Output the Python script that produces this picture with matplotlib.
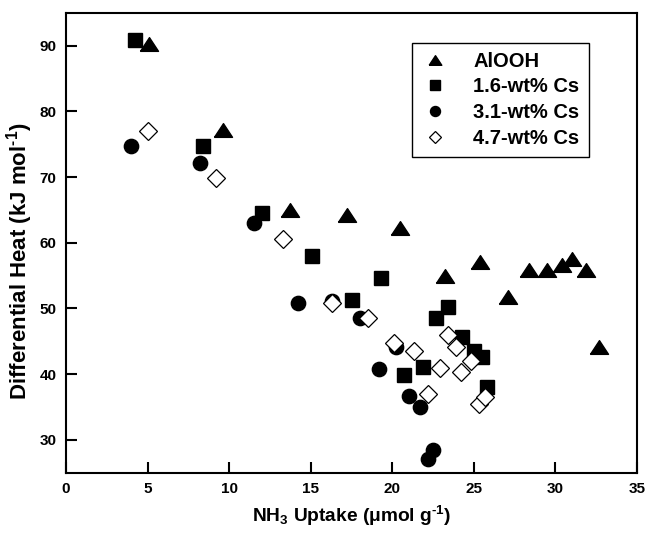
import numpy as np
import matplotlib.pyplot as plt

plt.rcParams['font.family'] = 'Liberation Sans'
plt.rcParams['font.weight'] = 'bold'
plt.rcParams['mathtext.fontset'] = 'custom'
plt.rcParams['mathtext.bf'] = 'Liberation Sans:bold'
plt.rcParams['mathtext.rm'] = 'Liberation Sans:bold'
plt.rcParams['mathtext.default'] = 'bf'

# AlOOH
x_al = [5.1, 9.6, 13.7, 17.2, 20.5, 23.2, 25.4, 27.1, 28.4, 29.5, 30.4, 31.0, 31.9, 32.7]
y_al = [90.2, 77.1, 65.0, 64.3, 62.2, 55.0, 57.0, 51.7, 55.9, 55.9, 56.6, 57.6, 55.9, 44.1]

# 1.6-wt% Cs
x_16 = [4.2, 8.4, 12.0, 15.1, 17.5, 19.3, 20.7, 21.9, 22.7, 23.4, 24.3, 25.0, 25.5, 25.8]
y_16 = [90.8, 74.8, 64.6, 58.0, 51.3, 54.6, 39.9, 41.1, 48.6, 50.3, 45.7, 43.6, 42.6, 38.0]

# 3.1-wt% Cs
x_31 = [4.0, 8.2, 11.5, 14.2, 16.3, 18.0, 19.2, 20.2, 21.0, 21.7, 22.2, 22.5]
y_31 = [74.7, 72.2, 63.0, 50.9, 51.2, 48.6, 40.8, 44.1, 36.7, 35.0, 27.1, 28.4]

# 4.7-wt% Cs
x_47 = [5.0, 9.2, 13.3, 16.3, 18.5, 20.1, 21.3, 22.2, 22.9, 23.4, 23.9, 24.2, 24.8, 25.3, 25.7]
y_47 = [77.0, 69.9, 60.6, 50.8, 48.6, 44.7, 43.6, 37.0, 41.0, 45.9, 44.2, 40.4, 42.0, 35.4, 36.6]

# slightly flattened triangle like the original
tri = [(-1, -0.76), (1, -0.76), (0, 0.76), (-1, -0.76)]

fig = plt.figure(figsize=(6.48, 5.33), dpi=100)
ax = fig.add_axes([0.102, 0.113, 0.881, 0.863])

ax.plot(x_al, y_al, linestyle='none', marker=tri, markersize=13, color='black', label='AlOOH')
ax.plot(x_16, y_16, linestyle='none', marker='s', markersize=9.6, color='black', label='1.6-wt% Cs')
ax.plot(x_31, y_31, linestyle='none', marker='o', markersize=10.3, color='black', label='3.1-wt% Cs')
ax.plot(x_47, y_47, linestyle='none', marker='D', markersize=9.2, markerfacecolor='white',
        markeredgecolor='black', markeredgewidth=0.9, label='4.7-wt% Cs')

ax.set_xlim(0, 35)
ax.set_ylim(25, 95)
ax.set_xticks(np.arange(0, 36, 5))
ax.set_yticks(np.arange(30, 91, 10))
ax.tick_params(direction='in', length=8, width=1.5, labelsize=11, top=False, right=False, pad=7)
for s in ax.spines.values():
    s.set_linewidth(1.5)

ax.set_xlabel(r'NH$_3$ Uptake ($\mu$mol g$^{\text{-}1}$)', fontsize=13.8, fontweight='bold', labelpad=5)
ax.set_ylabel(r'Differential Heat (kJ mol$^{\text{-}1}$)', fontsize=16, fontweight='bold')
ax.yaxis.set_label_coords(-0.054, 0.46)

leg = ax.legend(loc='upper left', bbox_to_anchor=(0.606, 0.935), fontsize=14.5, markerscale=0.7,
                fancybox=False, edgecolor='black', framealpha=1, labelspacing=0.33,
                handlelength=1.4, handletextpad=1.2, borderpad=0.45, borderaxespad=0)
leg.get_frame().set_linewidth(1.0)

plt.savefig('out.png', dpi=100)
